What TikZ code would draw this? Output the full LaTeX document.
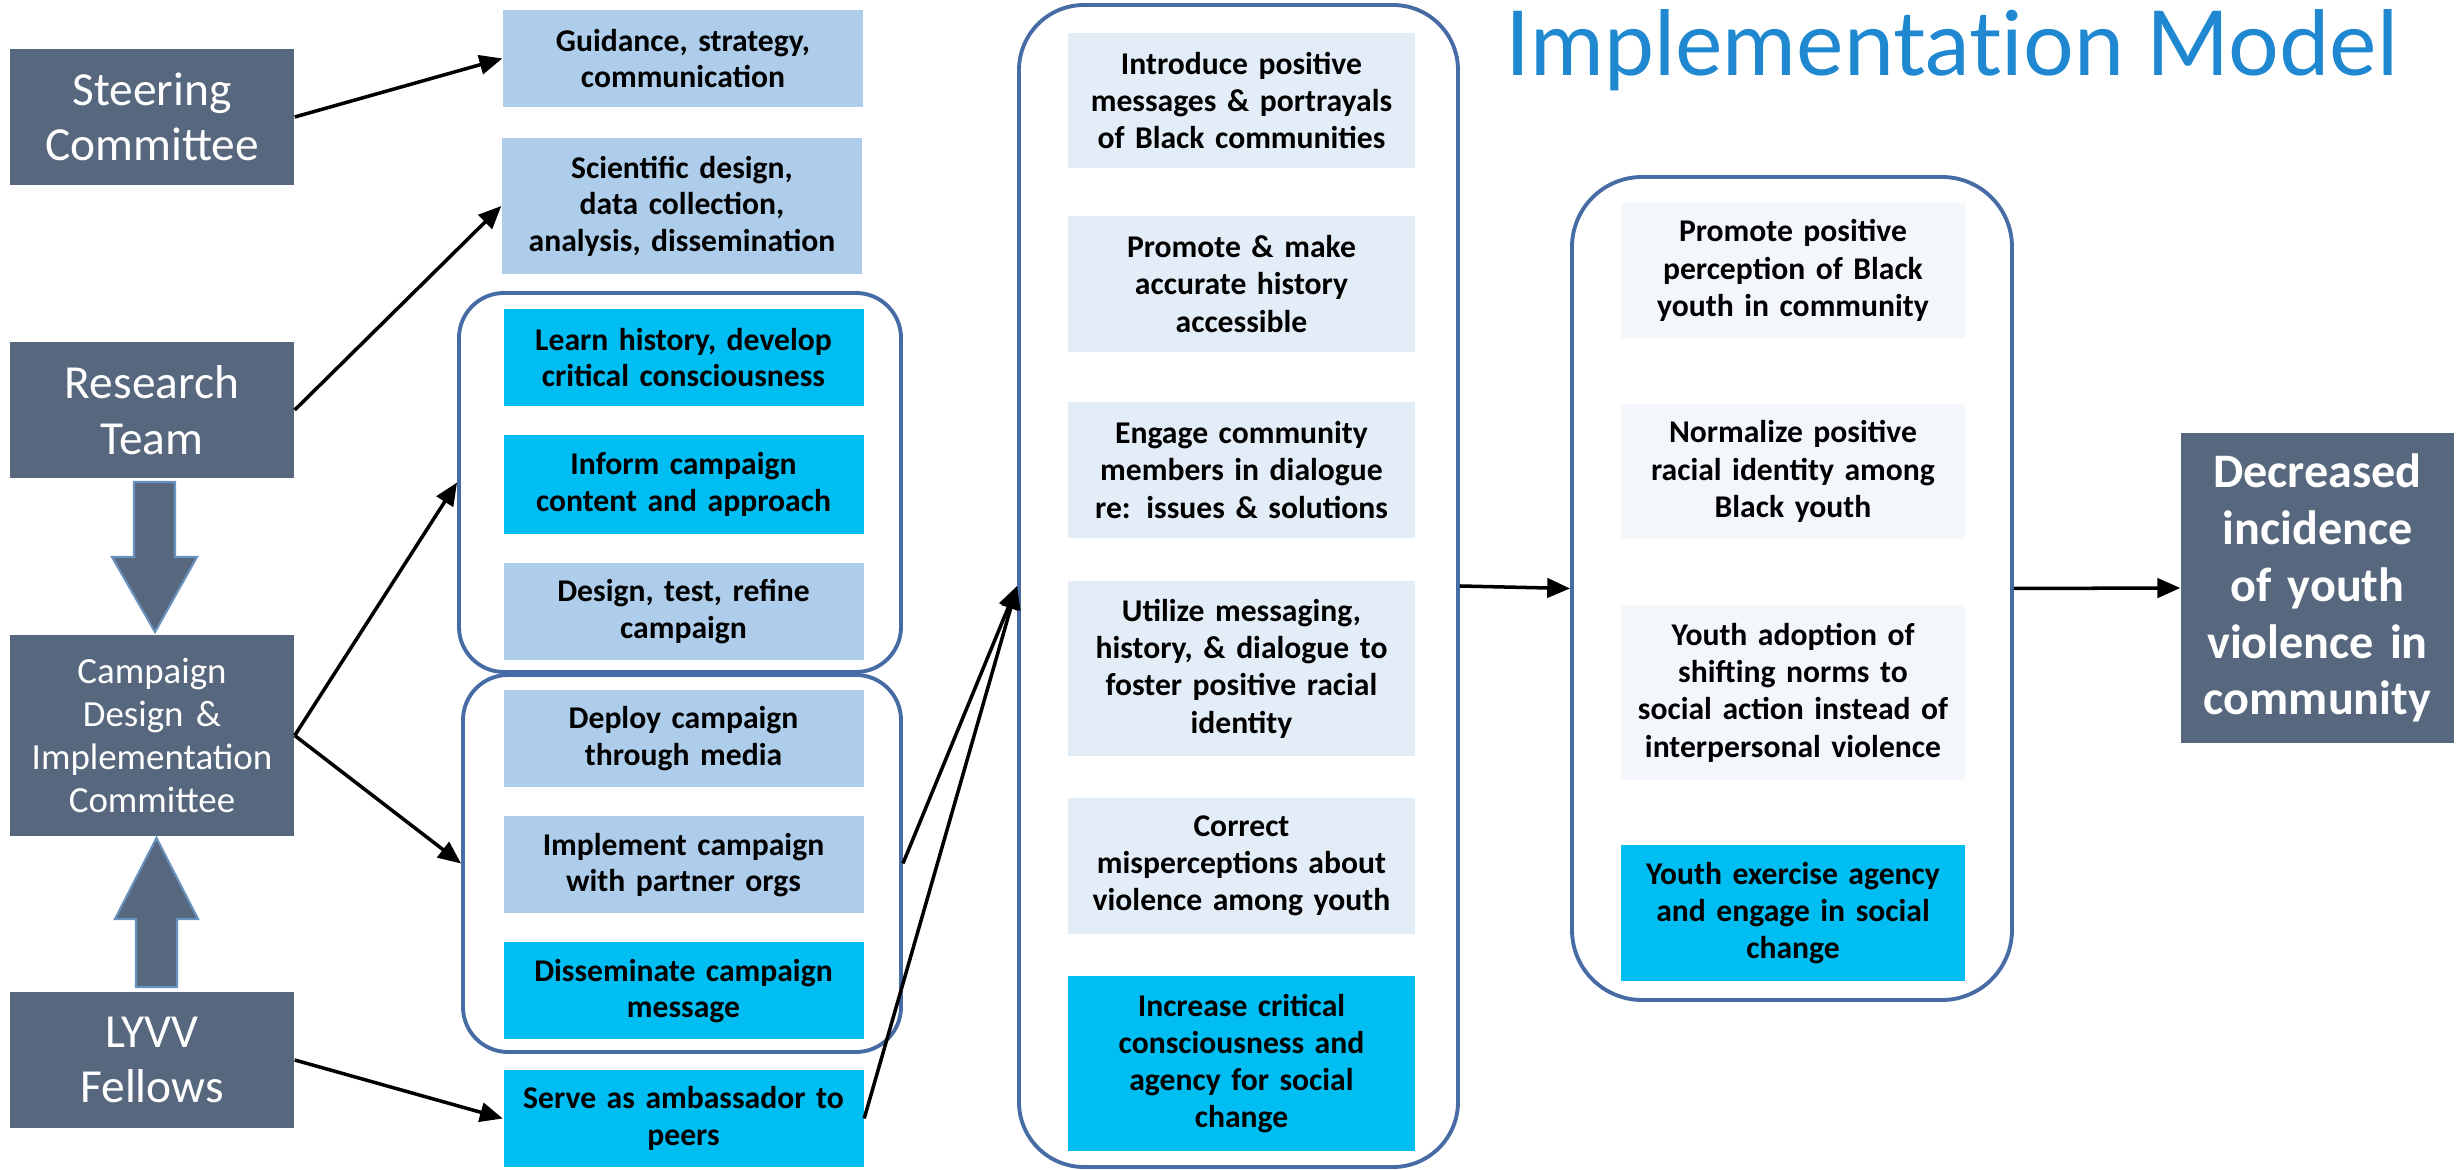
\documentclass[tikz,border=0pt]{standalone}
\usepackage{fontspec}
\setmainfont{Carlito}
\newfontfamily\titlefont[Ligatures=NoCommon]{Lato}
\usetikzlibrary{arrows.meta}
\definecolor{slate}{RGB}{86,103,126}
\definecolor{skyblue}{RGB}{173,205,234}
\definecolor{brightcyan}{RGB}{0,189,242}
\definecolor{paleblue}{RGB}{227,237,248}
\definecolor{palerblue}{RGB}{243,247,252}
\definecolor{groupblue}{RGB}{70,107,165}
\definecolor{titleblue}{RGB}{31,136,208}
\definecolor{blockedge}{RGB}{105,145,190}

\begin{document}
\begin{tikzpicture}
\tikzstyle{every node}+=[inner sep=0pt, align=center]
\tikzstyle{lead}=[fill=slate, text=white, minimum width=2.84cm, text width=2.7cm]
\tikzstyle{task}=[minimum width=3.6cm, minimum height=0.97cm, text width=3.4cm, font=\bfseries\fontsize{9}{10.4}\selectfont]
\tikzstyle{effect}=[minimum width=3.47cm, text width=3.3cm, font=\bfseries\fontsize{9}{10.6}\selectfont]
\tikzstyle{group}=[draw=groupblue, line width=1.1pt, rounded corners=0.45cm]
\tikzstyle{link}=[black, line width=1pt, -{Triangle[length=6.5pt,width=5.5pt]}]
\useasboundingbox (0,0) rectangle (24.58,-11.70);
% title
\node [font=\titlefont\fontsize{25.5}{30}\selectfont, text=titleblue, anchor=base] (title) at (19.52,-0.76) {Implementation Model};
% left column
\node [lead, minimum height=1.36cm, font=\fontsize{13.5}{15.8}\selectfont] (steer) at (1.52,-1.17) {Steering\\Committee};
\node [lead, minimum height=1.36cm, font=\fontsize{13.5}{15.8}\selectfont] (research) at (1.52,-4.10) {Research\\Team};
\node [lead, minimum height=2.01cm, font=\fontsize{10.5}{12.2}\selectfont] (campaign) at (1.52,-7.355) {Campaign\\Design \&\\Implementation\\Committee};
\node [lead, minimum height=1.36cm, font=\fontsize{13.5}{15.8}\selectfont] (lyvv) at (1.52,-10.60) {LYVV\\Fellows};
\draw [fill=slate, draw=blockedge, line width=0.6pt] (1.34,-4.82) -- (1.75,-4.82) -- (1.75,-5.57) -- (1.97,-5.57) -- (1.55,-6.32) -- (1.12,-5.57) -- (1.34,-5.57) -- cycle;
\draw [fill=slate, draw=blockedge, line width=0.6pt] (1.36,-9.87) -- (1.77,-9.87) -- (1.77,-9.19) -- (1.98,-9.19) -- (1.565,-8.38) -- (1.15,-9.19) -- (1.36,-9.19) -- cycle;
% second column
\node [group, minimum width=4.42cm, minimum height=3.79cm] (grp1) at (6.80,-4.825) {};
\node [group, minimum width=4.38cm, minimum height=3.77cm] (grp2) at (6.82,-8.635) {};
\node [task, fill=skyblue] (guide) at (6.83,-0.585) {Guidance, strategy,\\communication};
\node [task, fill=skyblue, minimum height=1.36cm] (sci) at (6.82,-2.06) {Scientific design,\\data collection,\\analysis, dissemination};
\node [task, fill=brightcyan] (learn) at (6.835,-3.575) {Learn history, develop\\critical consciousness};
\node [task, fill=brightcyan, minimum height=0.99cm] (inform) at (6.835,-4.845) {Inform campaign\\content and approach};
\node [task, fill=skyblue] (refine) at (6.835,-6.115) {Design, test, refine\\campaign};
\node [task, fill=skyblue] (deploy) at (6.835,-7.385) {Deploy campaign\\through media};
\node [task, fill=skyblue] (implement) at (6.835,-8.65) {Implement campaign\\with partner orgs};
\node [task, fill=brightcyan] (dissem) at (6.835,-9.91) {Disseminate campaign\\message};
\node [task, fill=brightcyan] (serve) at (6.835,-11.185) {Serve as ambassador to\\peers};
% third column
\node [group, rounded corners=0.65cm, minimum width=4.39cm, minimum height=11.62cm] (grp3) at (12.385,-5.86) {};
\node [effect, fill=paleblue, minimum height=1.35cm] (intro) at (12.415,-1.005) {Introduce positive\\messages \& portrayals\\of Black communities};
\node [effect, fill=paleblue, minimum height=1.36cm] (promote) at (12.415,-2.84) {Promote \& make\\accurate history\\accessible};
\node [effect, fill=paleblue, minimum height=1.36cm] (engage) at (12.415,-4.70) {Engage community\\members in dialogue\\re: issues \& solutions};
\node [effect, fill=paleblue, minimum height=1.75cm] (utilize) at (12.415,-6.685) {Utilize messaging,\\history, \& dialogue to\\foster positive racial\\identity};
\node [effect, fill=paleblue, minimum height=1.36cm] (correct) at (12.415,-8.66) {Correct\\misperceptions about\\violence among youth};
\node [effect, fill=brightcyan, minimum height=1.75cm] (increase) at (12.415,-10.635) {Increase critical\\consciousness and\\agency for social\\change};
% fourth column
\node [group, rounded corners=0.7cm, minimum width=4.40cm, minimum height=8.23cm] (grp4) at (17.92,-5.885) {};
\node [effect, fill=palerblue, minimum width=3.44cm, minimum height=1.35cm] (perception) at (17.93,-2.705) {Promote positive\\perception of Black\\youth in community};
\node [effect, fill=palerblue, minimum width=3.44cm, minimum height=1.35cm] (normalize) at (17.93,-4.715) {Normalize positive\\racial identity among\\Black youth};
\node [effect, fill=palerblue, minimum width=3.44cm, minimum height=1.75cm] (adoption) at (17.93,-6.925) {Youth adoption of\\shifting norms to\\social action instead of\\interpersonal violence};
\node [effect, fill=brightcyan, minimum width=3.44cm, minimum height=1.36cm] (exercise) at (17.93,-9.13) {Youth exercise agency\\and engage in social\\change};
% outcome
\node [lead, minimum width=2.73cm, text width=2.6cm, minimum height=3.10cm, font=\bfseries\fontsize{13.7}{16.2}\selectfont] (outcome) at (23.175,-5.88) {Decreased\\incidence\\of youth\\violence in\\community};
% connectors
\draw [link] (steer.east) -- (guide.west);
\draw [link] (research.east) -- (sci.west);
\draw [link] (campaign.east) -- (grp1.west);
\draw [link] (campaign.east) -- (grp2.west);
\draw [link] (lyvv.east) -- (serve.west);
\draw [link] (grp2.east) -- (grp3.west);
\draw [link] (serve.east) -- (grp3.west);
\draw [link] (grp3.east) -- (grp4.west);
\draw [link] (grp4.east) -- (outcome.west);
\end{tikzpicture}
\end{document}
